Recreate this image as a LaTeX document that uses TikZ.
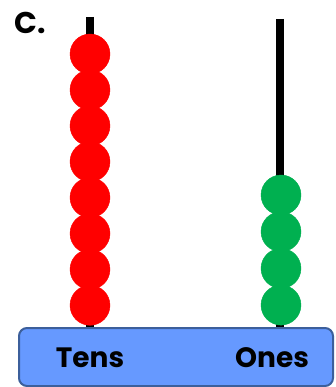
\documentclass[tikz,border=0pt]{standalone}
\usepackage{fontspec}
\setmainfont{Poppins}
\usepackage{xcolor}
\usepackage{tikz}

\begin{document}
\begin{tikzpicture}[x=1pt,y=-1pt]
				% 颜色列表
				\definecolor{myred}{RGB}{255,0,0}
				\definecolor{mygreen}{RGB}{0,176,80}
				\definecolor{myblue}{RGB}{102,153,255}
				\definecolor{myedge}{RGB}{60,95,155}
				\useasboundingbox (0,0) rectangle (335,387);
				
				% 标号
				\node[anchor=west,inner sep=0pt] (label) at (14,23) {\fontsize{30}{30}\selectfont\bfseries C.};
				
				% 两根杆
				\draw[line width=8pt] (90,17) -- (90,330);
				\draw[line width=8pt] (280,19) -- (280,330);
				
				% 十位珠子
				\foreach \y in {0,...,7}
				\filldraw[myred] (90,54+35.9*\y) circle (20);
				
				% 个位珠子
				\foreach \y in {0,...,3}
				\filldraw[mygreen] (281,195+36.7*\y) circle (20);
				
				% 底座
				\filldraw[fill=myblue,draw=myedge,line width=2pt,rounded corners=8pt] (19,328) rectangle (333,386);
				\node[inner sep=0pt] (tens) at (90,358) {\fontsize{28}{28}\selectfont\bfseries Tens};
				\node[inner sep=0pt] (ones) at (272,358) {\fontsize{28}{28}\selectfont\bfseries Ones};
				
\end{tikzpicture}
\end{document}
